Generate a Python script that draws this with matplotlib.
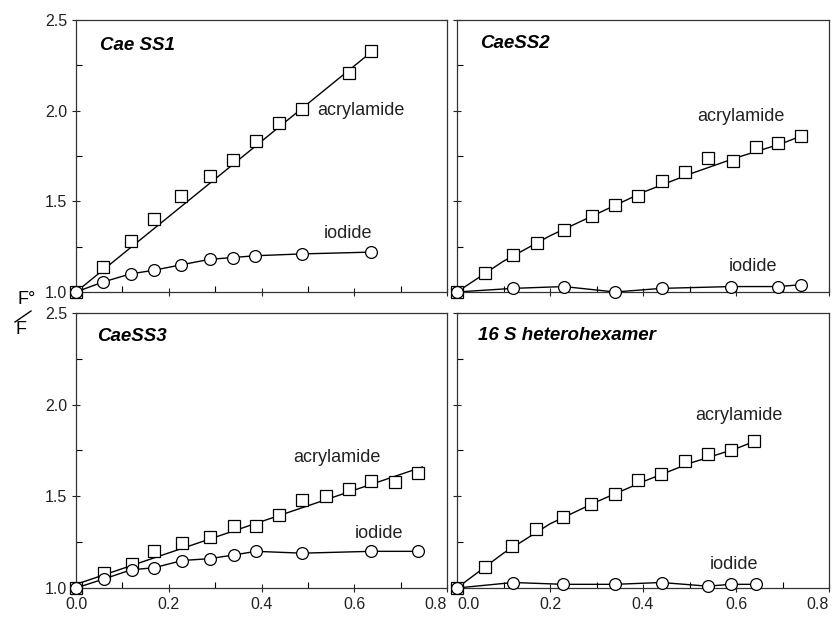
import matplotlib.pyplot as plt
from matplotlib.lines import Line2D
from matplotlib.ticker import MultipleLocator

plt.rcParams['font.family'] = ['Liberation Sans', 'DejaVu Sans']

# panel titles
titles = ['Cae SS1', 'CaeSS2', 'CaeSS3', '16 S heterohexamer']
xticks = [0.0, 0.2, 0.4, 0.6, 0.8]
yticks = [1.0, 1.5, 2.0, 2.5]

# CaeSS1
acr1_x = [0, 0.058, 0.118, 0.168, 0.227, 0.288, 0.338, 0.388, 0.437, 0.487, 0.588, 0.637]
acr1_y = [1.0, 1.14, 1.28, 1.40, 1.53, 1.64, 1.73, 1.83, 1.93, 2.01, 2.21, 2.33]
iod1_x = [0, 0.058, 0.118, 0.168, 0.227, 0.288, 0.338, 0.387, 0.487, 0.637]
iod1_y = [1.0, 1.055, 1.10, 1.12, 1.15, 1.18, 1.19, 1.20, 1.21, 1.22]
fit1_x = [0, 0.64]
fit1_y = [1.0, 2.33]

# CaeSS2
acr2_x = [0, 0.06, 0.12, 0.172, 0.23, 0.29, 0.34, 0.39, 0.44, 0.49, 0.54, 0.594, 0.643, 0.69, 0.74]
acr2_y = [1.0, 1.105, 1.205, 1.27, 1.34, 1.42, 1.48, 1.53, 1.61, 1.66, 1.74, 1.72, 1.80, 1.82, 1.86]
iod2_x = [0, 0.12, 0.23, 0.34, 0.44, 0.59, 0.69, 0.74]
iod2_y = [1.0, 1.02, 1.03, 1.00, 1.02, 1.03, 1.03, 1.04]
fit2_x = [0, 0.1, 0.2, 0.3, 0.4, 0.5, 0.6, 0.7, 0.74]
fit2_y = [1.0, 1.17, 1.31, 1.43, 1.55, 1.65, 1.74, 1.82, 1.86]

# CaeSS3
acr3_x = [0, 0.061, 0.12, 0.168, 0.229, 0.288, 0.34, 0.388, 0.438, 0.487, 0.539, 0.588, 0.637, 0.687, 0.737]
acr3_y = [1.0, 1.08, 1.13, 1.20, 1.245, 1.28, 1.34, 1.34, 1.40, 1.48, 1.50, 1.54, 1.585, 1.58, 1.63]
iod3_x = [0, 0.061, 0.12, 0.168, 0.229, 0.288, 0.34, 0.388, 0.487, 0.637, 0.737]
iod3_y = [1.0, 1.05, 1.10, 1.11, 1.15, 1.16, 1.18, 1.20, 1.19, 1.20, 1.20]
fit3_x = [0, 0.747]
fit3_y = [1.02, 1.66]

# 16 S heterohexamer
acr4_x = [0, 0.061, 0.119, 0.17, 0.229, 0.289, 0.34, 0.389, 0.439, 0.49, 0.539, 0.589, 0.639]
acr4_y = [1.0, 1.115, 1.23, 1.32, 1.39, 1.46, 1.51, 1.59, 1.62, 1.69, 1.73, 1.75, 1.80]
iod4_x = [0, 0.121, 0.229, 0.34, 0.44, 0.539, 0.589, 0.643]
iod4_y = [1.0, 1.03, 1.02, 1.02, 1.03, 1.01, 1.02, 1.02]
fit4_x = [0, 0.1, 0.2, 0.3, 0.4, 0.5, 0.6, 0.64]
fit4_y = [1.0, 1.19, 1.35, 1.47, 1.58, 1.68, 1.76, 1.80]

# label positions (data coords)
acr_lab = [(0.52, 2.0), (0.61, 1.97), (0.563, 1.71), (0.607, 1.94)]
iod_lab = [(0.587, 1.32), (0.637, 1.14), (0.654, 1.30), (0.596, 1.13)]
title_pos = [(0.052, 2.36), (0.05, 2.37), (0.045, 2.37), (0.046, 2.38)]

panels = [
    (acr1_x, acr1_y, iod1_x, iod1_y, fit1_x, fit1_y),
    (acr2_x, acr2_y, iod2_x, iod2_y, fit2_x, fit2_y),
    (acr3_x, acr3_y, iod3_x, iod3_y, fit3_x, fit3_y),
    (acr4_x, acr4_y, iod4_x, iod4_y, fit4_x, fit4_y),
]

W, H = 838, 621
fig = plt.figure(figsize=(W / 100, H / 100), dpi=100)

lefts = [76, 457]
widths = [371, 372]
tops = [20, 313]
heights = [272, 275]

for i, (ax_x, ax_y, io_x, io_y, fx, fy) in enumerate(panels):
    r, c = divmod(i, 2)
    ax = fig.add_axes([lefts[c] / W, 1 - (tops[r] + heights[r]) / H, widths[c] / W, heights[r] / H])
    ax.set_xlim(0, 0.8)
    ax.set_ylim(1.0, 2.5)
    ax.set_xticks(xticks, [f'{v:.1f}' for v in xticks])
    ax.set_yticks(yticks, [f'{v:.1f}' for v in yticks])
    ax.xaxis.set_minor_locator(MultipleLocator(0.1))
    ax.yaxis.set_minor_locator(MultipleLocator(0.25))
    ax.tick_params(which='major', direction='inout', length=6, width=0.8, labelsize=11.5, colors='#222222')
    ax.tick_params(which='minor', direction='in', length=4, width=0.8)
    if r == 0:
        ax.tick_params(axis='x', labelbottom=False)
    if c == 1:
        ax.tick_params(axis='y', labelleft=False)
    ticks = ax.xaxis.get_major_ticks()
    if c == 0:
        ticks[-1].label1.set_horizontalalignment('right')
    else:
        ticks[0].label1.set_horizontalalignment('left')
        ticks[-1].label1.set_horizontalalignment('right')
    for s in ax.spines.values():
        s.set_linewidth(0.9)
        s.set_color('#333333')

    ax.plot(fx, fy, color='black', lw=1.0, zorder=2, clip_on=False)
    ax.plot(io_x, io_y, color='black', lw=1.0, zorder=2, clip_on=False)
    ax.plot(ax_x, ax_y, ls='none', marker='s', ms=8.5, mfc='white', mec='black', mew=0.9, zorder=3, clip_on=False)
    ax.plot(io_x, io_y, ls='none', marker='o', ms=8.5, mfc='white', mec='black', mew=0.9, zorder=3, clip_on=False)

    ax.text(acr_lab[i][0], acr_lab[i][1], 'acrylamide', fontsize=13, ha='left' if i == 0 else 'center', va='center', color='#222222')
    ax.text(iod_lab[i][0], iod_lab[i][1], 'iodide', fontsize=13, ha='center', va='center', color='#222222')
    ax.text(title_pos[i][0], title_pos[i][1], titles[i], fontsize=13.5, fontweight='bold', fontstyle='italic', ha='left', va='center')

# y label F°/F as slanted fraction
fig.text(27 / W, 1 - 300 / H, 'F°', fontsize=13, ha='center', va='center')
fig.text(21 / W, 1 - 330 / H, 'F', fontsize=13, ha='center', va='center')
fig.add_artist(Line2D([15 / W, 31 / W], [1 - 322 / H, 1 - 311 / H], color='black', lw=1.0))

fig.savefig('out.png', dpi=100)
